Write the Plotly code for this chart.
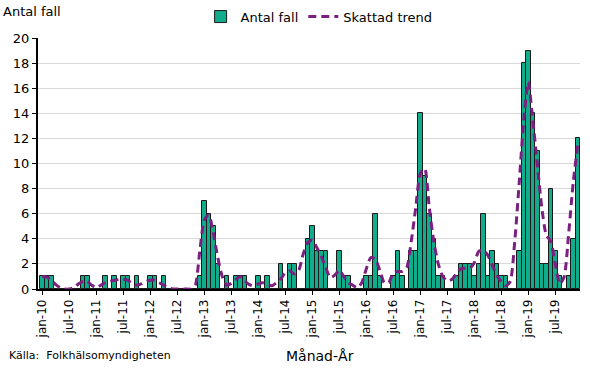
import plotly.graph_objects as go

months_sv = ["jan", "feb", "mar", "apr", "maj", "jun", "jul", "aug", "sep", "okt", "nov", "dec"]
years = list(range(10, 20))
categories = [f"{m}-{y:02d}" for y in years for m in months_sv]

antal_fall = [
    1, 1, 1, 0, 0, 0, 0, 0, 0, 1, 1, 0,
    0, 0, 1, 0, 1, 0, 1, 1, 0, 1, 0, 0,
    1, 1, 0, 1, 0, 0, 0, 0, 0, 0, 0, 1,
    7, 6, 5, 2, 0, 1, 0, 1, 1, 1, 0, 0,
    1, 0, 1, 0, 0, 2, 0, 2, 2, 0, 0, 4,
    5, 3, 3, 3, 0, 0, 3, 1, 1, 0, 0, 0,
    1, 1, 6, 1, 0, 0, 1, 3, 1, 0, 3, 3,
    14, 9, 6, 4, 1, 1, 0, 0, 1, 2, 2, 2,
    1, 2, 6, 1, 3, 2, 1, 1, 0, 0, 3, 18,
    19, 14, 11, 2, 2, 8, 3, 1, 0, 1, 4, 12,
]

skattad_trend = [
    1.0, 0.95, 0.7, 0.35, 0.1, 0.0, 0.0, 0.1, 0.4, 0.6, 0.6, 0.3,
    0.1, 0.3, 0.5, 0.6, 0.7, 0.75, 0.75, 0.7, 0.4, 0.3, 0.4, 0.6,
    0.7, 0.7, 0.5, 0.3, 0.1, 0.0, 0.0, 0.0, 0.0, 0.0, 0.3, 3.0,
    5.5, 5.9, 4.5, 2.5, 1.0, 0.3, 0.45, 0.75, 1.0, 0.65, 0.35, 0.25,
    0.4, 0.5, 0.4, 0.25, 0.5, 0.8, 1.3, 1.45, 1.2, 1.5, 2.8, 3.7,
    3.9, 3.3, 2.6, 1.7, 0.9, 1.1, 1.5, 1.0, 0.5, 0.3, 0.1, 0.5,
    1.6, 2.5, 2.4, 1.5, 0.5, 0.5, 1.3, 1.4, 1.4, 1.7, 3.8, 6.5,
    9.2, 9.6, 6.5, 3.8, 2.0, 1.0, 0.65, 0.75, 1.2, 1.6, 1.65, 1.65,
    2.1, 3.0, 3.1, 2.7, 1.9, 1.1, 0.6, 0.25, 0.6, 3.8, 8.5, 13.5,
    16.5, 13.5, 10.0, 6.5, 4.3, 3.8, 2.0, 0.4, 1.0, 4.5, 8.5, 11.5,
]

y_ticks = list(range(0, 21, 2))
x_idx = list(range(len(categories)))
tick_idx = x_idx[::6]
tick_text = [categories[i] for i in tick_idx]

FONT = "Verdana, DejaVu Sans, sans-serif"

fig = go.Figure()
fig.add_trace(go.Bar(
    x=x_idx, y=antal_fall, name="Antal fall",
    marker=dict(color="#10AC8C", line=dict(color="#1a1a1a", width=1)),
))
fig.add_trace(go.Scatter(
    x=x_idx, y=skattad_trend, name="Skattad trend", mode="lines",
    line=dict(color="#7B1F80", width=3, dash="8px,5px", shape="spline", smoothing=0.6),
))

fig.update_layout(
    width=590, height=369,
    margin=dict(l=38, r=10, t=38, b=80, autoexpand=False),
    paper_bgcolor="white", plot_bgcolor="white",
    bargap=0,
    font=dict(family=FONT, size=12, color="black"),
    showlegend=True,
    legend=dict(orientation="h", x=0.3, y=0.955, yref="container",
                xanchor="left", yanchor="middle",
                font=dict(size=13), traceorder="normal", bgcolor="rgba(0,0,0,0)"),
    xaxis=dict(
        range=[-0.95, 119.5], automargin=False,
        tickmode="array", tickvals=tick_idx, ticktext=tick_text,
        tickangle=-90, ticks="outside", ticklen=4, tickcolor="black",
        showline=True, linecolor="black", linewidth=1.5,
        showgrid=False, zeroline=False, tickfont=dict(size=12),
    ),
    yaxis=dict(
        range=[0, 20], automargin=False, tickmode="array", tickvals=y_ticks,
        ticks="outside", ticklen=4, tickcolor="black",
        showline=True, linecolor="black", linewidth=2,
        showgrid=True, gridcolor="#D9D9D9", gridwidth=1,
        zeroline=False, tickfont=dict(size=13),
    ),
    annotations=[
        dict(text="Antal fall", xref="paper", yref="paper", x=-0.068, y=1.105,
             xanchor="left", yanchor="middle", showarrow=False, font=dict(size=13)),
        dict(text="Källa:  Folkhälsomyndigheten", xref="paper", yref="paper", x=-0.058, y=-0.265,
             xanchor="left", yanchor="middle", showarrow=False, font=dict(size=11)),
        dict(text="Månad-År", xref="paper", yref="paper", x=0.52, y=-0.265,
             xanchor="center", yanchor="middle", showarrow=False, font=dict(size=14)),
    ],
)

fig.write_html("out.html", config={"displayModeBar": False},
               post_script="document.body.style.margin='0';")
